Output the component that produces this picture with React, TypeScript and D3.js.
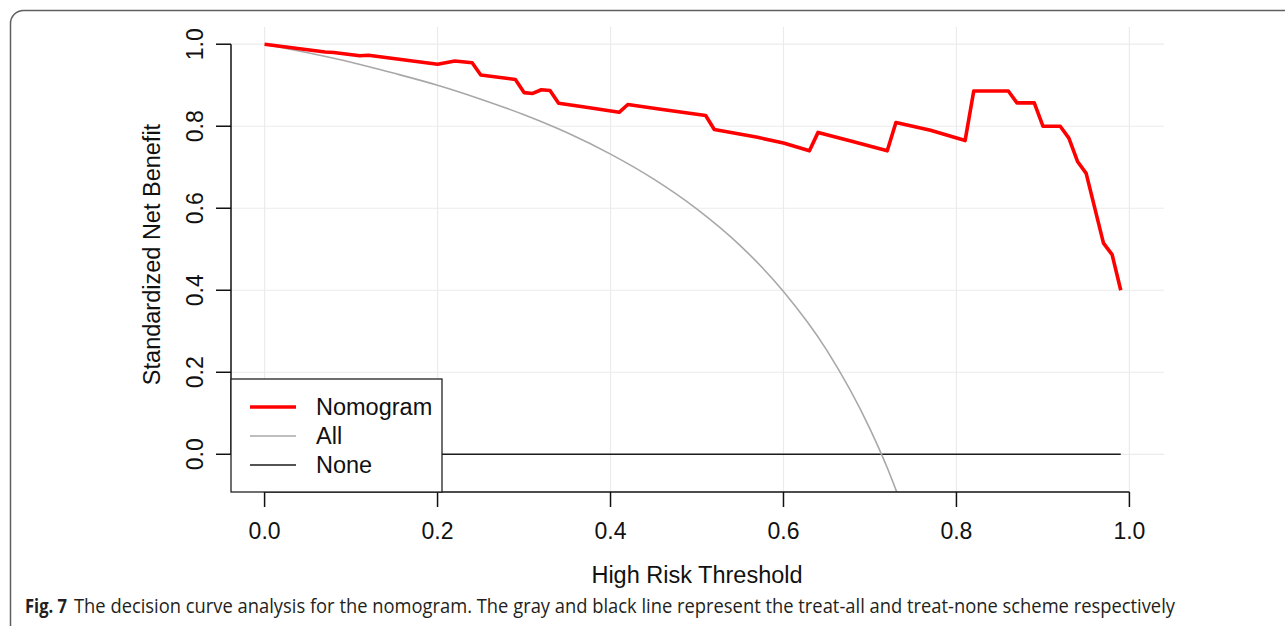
import React, { useEffect, useRef } from "react";
import * as d3 from "d3";

// Decision curve: standardized net benefit vs. high-risk threshold
const nomogramThreshold = [
  0, 0.07, 0.08, 0.11, 0.12, 0.16, 0.2, 0.22, 0.24, 0.25, 0.29, 0.3, 0.31, 0.32, 0.33, 0.34,
  0.37, 0.41, 0.42, 0.46, 0.51, 0.52, 0.57, 0.6, 0.63, 0.64, 0.68, 0.72, 0.73, 0.77, 0.81,
  0.82, 0.86, 0.87, 0.89, 0.9, 0.92, 0.93, 0.94, 0.95, 0.97, 0.98, 0.99,
];
const nomogramBenefit = [
  1.0, 0.981, 0.98, 0.972, 0.973, 0.962, 0.951, 0.959, 0.955, 0.925, 0.914, 0.882, 0.88, 0.889,
  0.887, 0.856, 0.847, 0.834, 0.853, 0.841, 0.826, 0.792, 0.773, 0.759, 0.74, 0.785, 0.763,
  0.74, 0.809, 0.79, 0.765, 0.886, 0.886, 0.857, 0.857, 0.8, 0.8, 0.771, 0.714, 0.685, 0.515,
  0.487, 0.4,
];

const allThreshold = [
  0, 0.05, 0.1, 0.15, 0.2, 0.25, 0.3, 0.35, 0.4, 0.45, 0.5, 0.55, 0.6, 0.65, 0.7, 0.72, 0.74,
];
const allBenefit = [
  1.0, 0.979, 0.956, 0.929, 0.9, 0.866, 0.828, 0.784, 0.732, 0.671, 0.598, 0.509, 0.397,
  0.254, 0.062, -0.033, -0.143,
];

const noneThreshold = [0, 0.99];
const noneBenefit = [0, 0];

const xTicks = [0, 0.2, 0.4, 0.6, 0.8, 1.0];
const yTicks = [0, 0.2, 0.4, 0.6, 0.8, 1.0];

const legendLabels = ["Nomogram", "All", "None"];

const FONT = "'Liberation Sans', Arial, sans-serif";

export default function App() {
  const ref = useRef<SVGSVGElement | null>(null);

  useEffect(() => {
    const svg = d3.select(ref.current);
    svg.selectAll("*").remove();

    const left = 230, right = 1164, top = 27, bottom = 492;
    const x = d3.scaleLinear().domain([-0.04, 1.04]).range([left, right]);
    const y = d3.scaleLinear().domain([-0.092, 1.042]).range([bottom, top]);

    // outer figure frame
    svg.append("rect")
      .attr("x", 10.5).attr("y", 10.5)
      .attr("width", 1300).attr("height", 640)
      .attr("rx", 13)
      .attr("fill", "none")
      .attr("stroke", "#5f5f5f")
      .attr("stroke-width", 1.5);

    svg.append("defs").append("clipPath").attr("id", "plot-clip")
      .append("rect")
      .attr("x", left).attr("y", top)
      .attr("width", right - left).attr("height", bottom - top);

    // grid
    const grid = svg.append("g");
    xTicks.forEach((t) => {
      grid.append("line")
        .attr("x1", x(t)).attr("x2", x(t))
        .attr("y1", top).attr("y2", bottom)
        .attr("stroke", "#ebebeb").attr("stroke-width", 1.2);
    });
    yTicks.forEach((t) => {
      grid.append("line")
        .attr("x1", left).attr("x2", right)
        .attr("y1", y(t)).attr("y2", y(t))
        .attr("stroke", "#ebebeb").attr("stroke-width", 1.2);
    });

    const plot = svg.append("g").attr("clip-path", "url(#plot-clip)");

    const noneLine = d3.line<number>()
      .x((d) => x(d))
      .y((_, i) => y(noneBenefit[i]));
    plot.append("path")
      .attr("d", noneLine(noneThreshold))
      .attr("fill", "none")
      .attr("stroke", "#1a1a1a")
      .attr("stroke-width", 1.5);

    const allLine = d3.line<number>()
      .x((d) => x(d))
      .y((_, i) => y(allBenefit[i]))
      .curve(d3.curveMonotoneX);
    plot.append("path")
      .attr("d", allLine(allThreshold))
      .attr("fill", "none")
      .attr("stroke", "#a8a8a8")
      .attr("stroke-width", 1.6);

    const nomoLine = d3.line<number>()
      .x((d) => x(d))
      .y((_, i) => y(nomogramBenefit[i]));
    plot.append("path")
      .attr("d", nomoLine(nomogramThreshold))
      .attr("fill", "none")
      .attr("stroke", "#ff0000")
      .attr("stroke-width", 3.6)
      .attr("stroke-linejoin", "round");

    // x axis
    const xa = svg.append("g");
    xa.append("line")
      .attr("x1", x(0)).attr("x2", x(1))
      .attr("y1", bottom).attr("y2", bottom)
      .attr("stroke", "#111").attr("stroke-width", 1.5);
    xTicks.forEach((t) => {
      xa.append("line")
        .attr("x1", x(t)).attr("x2", x(t))
        .attr("y1", bottom).attr("y2", bottom + 15)
        .attr("stroke", "#111").attr("stroke-width", 1.5);
      xa.append("text")
        .attr("x", x(t)).attr("y", 539)
        .attr("text-anchor", "middle")
        .attr("font-family", FONT).attr("font-size", 23)
        .attr("fill", "#111")
        .text(d3.format(".1f")(t));
    });
    svg.append("text")
      .attr("x", (x(0) + x(1)) / 2).attr("y", 583)
      .attr("text-anchor", "middle")
      .attr("font-family", FONT).attr("font-size", 23.5)
      .attr("fill", "#111")
      .text("High Risk Threshold");

    // y axis
    const ya = svg.append("g");
    ya.append("line")
      .attr("x1", left + 1).attr("x2", left + 1)
      .attr("y1", y(1)).attr("y2", y(0))
      .attr("stroke", "#111").attr("stroke-width", 1.5);
    yTicks.forEach((t) => {
      ya.append("line")
        .attr("x1", left + 1).attr("x2", left - 14)
        .attr("y1", y(t)).attr("y2", y(t))
        .attr("stroke", "#111").attr("stroke-width", 1.5);
      ya.append("text")
        .attr("transform", `translate(203,${y(t)}) rotate(-90)`)
        .attr("text-anchor", "middle")
        .attr("font-family", FONT).attr("font-size", 23)
        .attr("fill", "#111")
        .text(d3.format(".1f")(t));
    });
    svg.append("text")
      .attr("transform", `translate(160,${(top + bottom) / 2 - 5}) rotate(-90)`)
      .attr("text-anchor", "middle")
      .attr("font-family", FONT).attr("font-size", 23.5)
      .attr("fill", "#111")
      .text("Standardized Net Benefit");

    // legend
    const lg = svg.append("g");
    lg.append("rect")
      .attr("x", 231).attr("y", 379)
      .attr("width", 211).attr("height", 113)
      .attr("fill", "#fff")
      .attr("stroke", "#222").attr("stroke-width", 1.3);
    const legendStyle = [
      { color: "#ff0000", width: 3.6 },
      { color: "#a8a8a8", width: 1.6 },
      { color: "#1a1a1a", width: 1.5 },
    ];
    legendLabels.forEach((label, i) => {
      const ly = 407 + i * 29;
      lg.append("line")
        .attr("x1", 250).attr("x2", 296)
        .attr("y1", ly).attr("y2", ly)
        .attr("stroke", legendStyle[i].color)
        .attr("stroke-width", legendStyle[i].width);
      lg.append("text")
        .attr("x", 316).attr("y", ly + 8)
        .attr("font-family", FONT).attr("font-size", 23.5)
        .attr("fill", "#111")
        .text(label);
    });

    // caption
    const cap = svg.append("text")
      .attr("y", 613)
      .attr("font-family", "'Open Sans', 'Noto Sans', sans-serif")
      .attr("font-size", 20)
      .attr("fill", "#231f20");
    cap.append("tspan")
      .attr("x", 25)
      .attr("font-weight", "bold")
      .attr("textLength", 42)
      .attr("lengthAdjust", "spacingAndGlyphs")
      .text("Fig. 7");
    cap.append("tspan")
      .attr("x", 74)
      .attr("textLength", 1101)
      .attr("lengthAdjust", "spacingAndGlyphs")
      .text(
        "The decision curve analysis for the nomogram. The gray and black line represent the treat-all and treat-none scheme respectively"
      );
  }, []);

  return (
    <svg
      ref={ref}
      width={1285}
      height={626}
      style={{ position: "absolute", left: 0, top: 0, background: "#fff" }}
    />
  );
}
